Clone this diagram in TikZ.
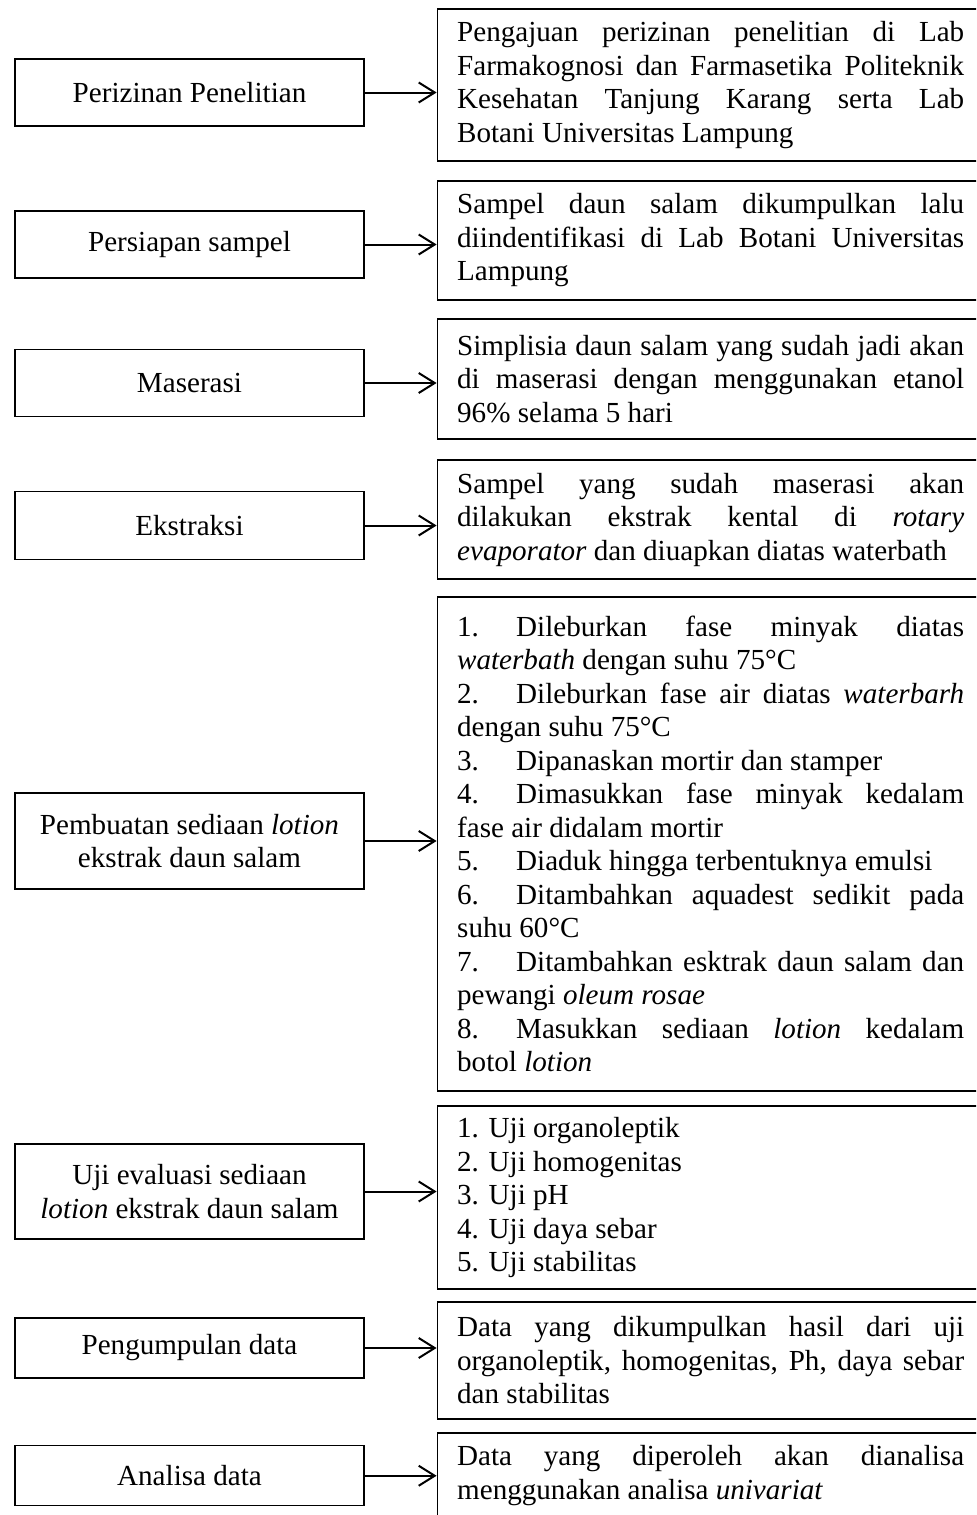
\documentclass[tikz,border=0pt]{standalone}
\usepackage{fontspec}
\setmainfont{Liberation Serif}
\usepackage{tikz}
\usetikzlibrary{
  arrows.meta,
  matrix,
  positioning
}
\tolerance=10000
\hbadness=10000

\newcommand{\nomor}[1]{\makebox[29.5pt][l]{#1.}}

\begin{document}
\begin{tikzpicture}[
      x=0.5pt, y=-0.5pt,
      stage/.style={
         rectangle,
         anchor=center,
         minimum width=174.5pt,
         minimum height=#1,
         inner sep=3pt,
         line width=0.6pt,
         draw=black,
         align=center,
         font=\fontsize{14.55}{16.75}\selectfont
      },
      stage/.default=33.5pt,
      detail/.style={
         rectangle,
         anchor=center,
         text width=253.5pt,
         inner xsep=10pt,
         inner ysep=3pt,
         minimum height=#1,
         line width=0.6pt,
         draw=black,
         align=justify,
         font=\fontsize{14.55}{16.75}\selectfont
      },
      >={Straight Barb[length=8pt,width=10pt]},
      tip/.style={->,line width=1pt}
    ]
    \useasboundingbox (0,0) rectangle (976,1515);
    \clip (0,0) rectangle (976,1515);
    \matrix[anchor=north west, inner sep=0pt, column sep=36pt, row sep=6.4pt] at (14,8) {
\node (n11) [stage, yshift=-3.75pt] {Perizinan Penelitian}; &
\node (n12) [detail=76pt] {Pengajuan perizinan penelitian di Lab\linebreak Farmakognosi dan Farmasetika Politeknik\linebreak Kesehatan Tanjung Karang serta Lab\linebreak Botani Universitas Lampung}; \\[3pt]
\node (n21) [stage, yshift=-2pt] {Persiapan sampel}; &
\node (n22) [detail=59.5pt] {Sampel daun salam dikumpulkan lalu\linebreak diindentifikasi di Lab Botani Universitas\linebreak Lampung}; \\[2.5pt]
\node (n31) [stage, yshift=-2pt] {Maserasi}; &
\node (n32) [detail=60pt] {Simplisia daun salam yang sudah jadi akan\linebreak di maserasi dengan menggunakan etanol\linebreak 96\% selama 5 hari}; \\[3.5pt]
\node (n41) [stage=34pt, yshift=-3pt] {Ekstraksi}; &
\node (n42) [detail=59.5pt] {Sampel yang sudah maserasi akan\linebreak dilakukan ekstrak kental di \textit{rotary}\linebreak \textit{evaporator} dan diuapkan diatas waterbath}; \\[2pt]
\node (n51) [stage=48pt, yshift=1.5pt] {Pembuatan sediaan \textit{lotion}\\ekstrak daun salam}; &
\node (n52) [detail=247pt] {\nomor{1}Dileburkan fase minyak diatas\linebreak \textit{waterbath} dengan suhu 75°C\par
\nomor{2}Dileburkan fase air diatas \textit{waterbarh}\linebreak dengan suhu 75°C\par
\nomor{3}Dipanaskan mortir dan stamper\par
\nomor{4}Dimasukkan fase minyak kedalam\linebreak fase air didalam mortir\par
\nomor{5}Diaduk hingga terbentuknya emulsi\par
\nomor{6}Ditambahkan aquadest sedikit pada\linebreak suhu 60°C\par
\nomor{7}Ditambahkan esktrak daun salam dan\linebreak pewangi \textit{oleum rosae}\par
\nomor{8}Masukkan sediaan \textit{lotion} kedalam\linebreak botol \textit{lotion}}; \\[0.5pt]
\node (n61) [stage=47.5pt, yshift=3pt] {Uji evaluasi sediaan\\\textit{lotion} ekstrak daun salam}; &
\node (n62) [detail=91.5pt] {1. Uji organoleptik\par
2. Uji homogenitas\par
3. Uji pH\par
4. Uji daya sebar\par
5. Uji stabilitas}; \\[-0.5pt]
\node (n71) [stage=30pt, yshift=6.25pt] {Pengumpulan data}; &
\node (n72) [detail=58.5pt] {Data yang dikumpulkan hasil dari uji\linebreak organoleptik, homogenitas, Ph, daya sebar\linebreak dan stabilitas}; \\
\node (n81) [stage=30pt] {Analisa data}; &
\node (n82) [detail=42.75pt] {Data yang diperoleh akan dianalisa\linebreak menggunakan analisa \textit{univariat}}; \\
    };
    \draw[tip] (n11) -- (n11 -| n12.west);
    \draw[tip] (n21) -- (n21 -| n22.west);
    \draw[tip] (n31) -- (n31 -| n32.west);
    \draw[tip] (n41) -- (n41 -| n42.west);
    \draw[tip] (n51) -- (n51 -| n52.west);
    \draw[tip] (n61) -- (n61 -| n62.west);
    \draw[tip] (n71) -- (n71 -| n72.west);
    \draw[tip] (n81) -- (n81 -| n82.west);
\end{tikzpicture}
\end{document}
